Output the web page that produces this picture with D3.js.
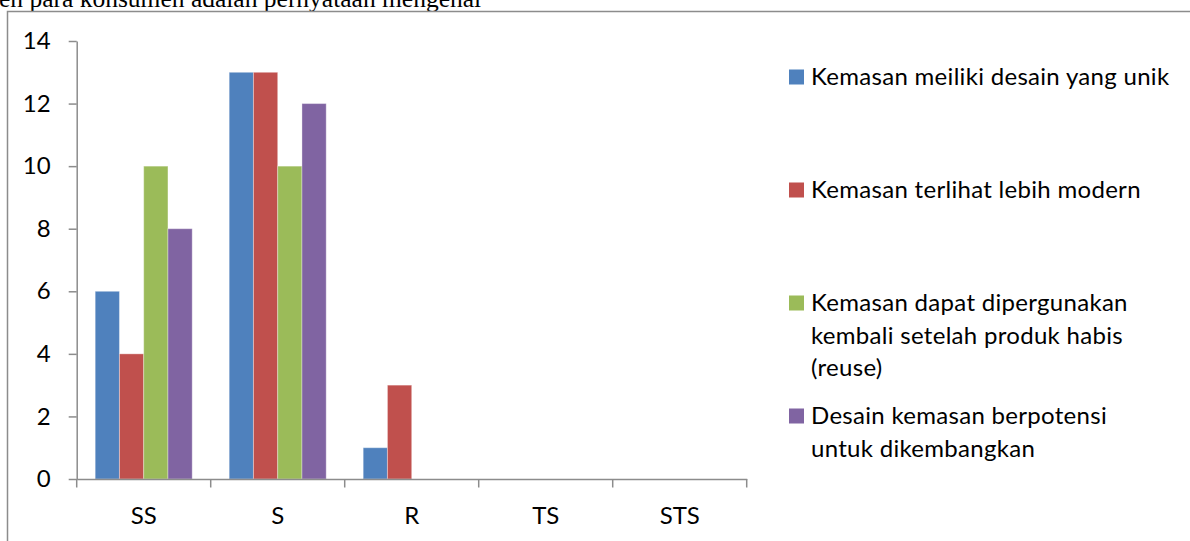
<!DOCTYPE html>
<html><head><meta charset="utf-8">
<script src="https://cdn.jsdelivr.net/npm/d3@7"></script>
<style>
html,body{margin:0;padding:0;background:#fff;overflow:hidden;}
svg{display:block;}
</style></head>
<body>
<svg id="chart" width="1190" height="541"></svg>
<script>
const categories = ["SS", "S", "R", "TS", "STS"];
const seriesNames = [
  "Kemasan meiliki desain yang unik",
  "Kemasan terlihat lebih modern",
  "Kemasan dapat dipergunakan kembali setelah produk habis (reuse)",
  "Desain kemasan berpotensi untuk dikembangkan"
];
const legendLines = [
  ["Kemasan meiliki desain yang unik"],
  ["Kemasan terlihat lebih modern"],
  ["Kemasan dapat dipergunakan", "kembali setelah produk habis", "(reuse)"],
  ["Desain kemasan berpotensi", "untuk dikembangkan"]
];
const seriesValues = [
  [6, 13, 1, 0, 0],
  [4, 13, 3, 0, 0],
  [10, 10, 0, 0, 0],
  [8, 12, 0, 0, 0]
];
const yTicks = [0, 2, 4, 6, 8, 10, 12, 14];
const colors = ["#4F81BD", "#C0504D", "#9BBB59", "#8064A2"];
const topText = "en para konsumen adalah pernyataan mengenai";

const svg = d3.select("#chart");
const FONT = "Lato, 'Open Sans', sans-serif";

// text fragment above (partly cut off at the top, as in the source)
svg.append("text").attr("x", -1).attr("y", 7)
  .attr("font-family", "'Liberation Serif', 'Times New Roman', serif")
  .attr("font-size", 25.5).attr("fill", "#000").text(topText);

// chart border (left and top visible)
svg.append("rect").attr("x", 7.5).attr("y", 11.5).attr("width", 1200).attr("height", 600)
  .attr("fill", "none").attr("stroke", "#8c8c8c").attr("stroke-width", 1.5);

const x0 = d3.scaleBand().domain(categories).range([76.7, 746.7]).padding(0);
const y = d3.scaleLinear().domain([0, 14]).range([479, 41]);
const inner = d3.scaleBand().domain(d3.range(seriesNames.length))
  .range([x0.bandwidth() * 0.138, x0.bandwidth() * 0.862]).padding(0);

// bars
const groups = svg.append("g").selectAll("g").data(categories).join("g")
  .attr("transform", d => `translate(${x0(d)},0)`);
groups.selectAll("rect")
  .data((c, ci) => seriesValues.map((vals, si) => ({si, v: vals[ci]})).filter(d => d.v > 0))
  .join("rect")
  .attr("x", d => inner(d.si))
  .attr("width", inner.bandwidth())
  .attr("y", d => y(d.v))
  .attr("height", d => y(0) - y(d.v))
  .attr("fill", d => colors[d.si])
  .attr("stroke", "rgba(255,255,255,0.35)").attr("stroke-width", 1);

// y axis
const yAxis = d3.axisLeft(y).tickValues(yTicks).tickSize(8).tickPadding(18).tickSizeOuter(0);
const gy = svg.append("g").attr("transform", "translate(76.7,0)").call(yAxis);
gy.select(".domain").attr("stroke", "#8c8c8c").attr("stroke-width", 1.5);
gy.selectAll(".tick line").attr("stroke", "#8c8c8c").attr("stroke-width", 1.5);
gy.selectAll(".tick text").attr("font-family", FONT).attr("font-size", 24).attr("fill", "#000");

// x axis
const xAxis = d3.axisBottom(x0).tickSize(0).tickPadding(28);
const gx = svg.append("g").attr("transform", "translate(0,479)").call(xAxis);
gx.select(".domain").attr("stroke", "#8c8c8c").attr("stroke-width", 1.5);
gx.selectAll(".tick text").attr("font-family", FONT).attr("font-size", 24).attr("fill", "#000");
// category boundary ticks
const bounds = categories.map(c => x0(c)).concat([x0(categories[categories.length-1]) + x0.bandwidth()]);
svg.append("g").selectAll("line").data(bounds).join("line")
  .attr("x1", d => d).attr("x2", d => d).attr("y1", 479).attr("y2", 487.5)
  .attr("stroke", "#8c8c8c").attr("stroke-width", 1.5);

// legend
const legendY = [77, 190, 303, 416];
const lg = svg.append("g");
legendLines.forEach((lines, i) => {
  lg.append("rect").attr("x", 789).attr("y", legendY[i] - 7.5).attr("width", 15).attr("height", 15)
    .attr("fill", colors[i]);
  const t = lg.append("text").attr("font-family", FONT).attr("font-size", 24)
    .attr("letter-spacing", 0.3).attr("fill", "#000");
  lines.forEach((ln, j) => {
    t.append("tspan").attr("x", 811).attr("y", legendY[i] + j * 32.5).attr("dy", "0.35em").text(ln);
  });
});
</script>
</body></html>
